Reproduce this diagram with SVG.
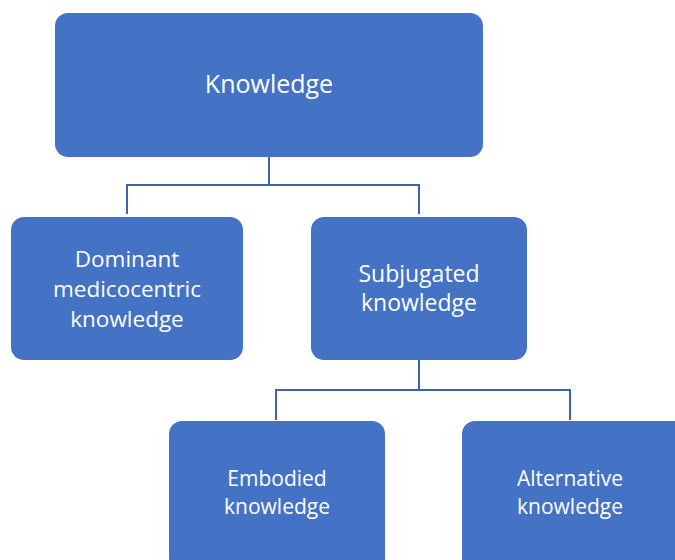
<svg xmlns="http://www.w3.org/2000/svg" width="675" height="560" viewBox="0 0 675 560">
<style>
.box{fill:#4472C4;}
.t{fill:#ffffff;font-family:"Open Sans","Liberation Sans",Arial,sans-serif;text-anchor:middle;}
.c{fill:none;stroke:#3B64AD;stroke-width:2;}
</style>
<rect width="675" height="560" fill="#ffffff"/>
<g id="connectors">
<path class="c" d="M269 157 V185 M127 214 V185 H419 V214"/>
<path class="c" d="M419 360 V390 M276 420 V390 H570 V420"/>
</g>
<g id="knowledge">
<rect class="box" x="55" y="13" width="428" height="144" rx="13"/>
<text class="t" x="269" y="93" font-size="25">Knowledge</text>
</g>
<g id="dominant">
<rect class="box" x="11" y="217" width="232" height="143" rx="13"/>
<text class="t" x="127" y="267" font-size="22.5">Dominant</text>
<text class="t" x="127" y="297" font-size="22.5">medicocentric</text>
<text class="t" x="127" y="327" font-size="22.5">knowledge</text>
</g>
<g id="subjugated">
<rect class="box" x="311" y="217" width="216" height="143" rx="13"/>
<text class="t" x="419" y="282" font-size="23">Subjugated</text>
<text class="t" x="419" y="311" font-size="23">knowledge</text>
</g>
<g id="embodied">
<rect class="box" x="169" y="421" width="216" height="150" rx="13"/>
<text class="t" x="277" y="486" font-size="21">Embodied</text>
<text class="t" x="277" y="514" font-size="21">knowledge</text>
</g>
<g id="alternative">
<rect class="box" x="462" y="421" width="230" height="150" rx="13"/>
<text class="t" x="570" y="486" font-size="21">Alternative</text>
<text class="t" x="570" y="514" font-size="21">knowledge</text>
</g>
</svg>
